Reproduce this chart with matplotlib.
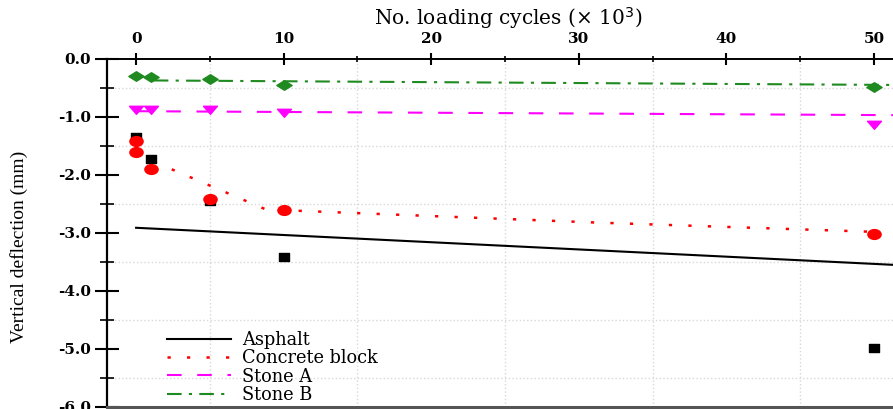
import numpy as np
import matplotlib
matplotlib.use("Agg")
from matplotlib import pyplot as plt
from matplotlib.path import Path
from matplotlib.transforms import Affine2D
from matplotlib.ticker import MultipleLocator, FormatStrFormatter

# measured points (x in 10^3 cycles, deflection in mm)
asphalt_x = [0, 1, 5, 10, 50]
asphalt_y = [-1.35, -1.72, -2.45, -3.41, -4.98]
concrete_x = [0, 0, 1, 5, 10, 50]
concrete_y = [-1.41, -1.61, -1.90, -2.41, -2.60, -3.01]
stoneA_x = [0, 1, 5, 10, 50]
stoneA_y = [-0.86, -0.87, -0.87, -0.91, -1.12]
stoneB_x = [0, 1, 5, 10, 50]
stoneB_y = [-0.29, -0.31, -0.35, -0.44, -0.48]

# trend lines
asphalt_fit_x = [0, 53]
asphalt_fit_y = [-2.91, -3.57]
concrete_fit_x = [1.2, 9.5, 10.3, 31.2, 50]
concrete_fit_y = [-1.77, -2.67, -2.61, -2.82, -2.98]
stoneA_fit_x = [0, 53]
stoneA_fit_y = [-0.90, -0.97]
stoneB_fit_x = [1.2, 53]
stoneB_fit_y = [-0.37, -0.45]

labels = ["Asphalt", "Concrete block", "Stone A", "Stone B"]


def squashed(path, sx=1.35, sy=1.0):
    # the original figure is stretched sideways, so markers are wide
    return path.transformed(Affine2D().scale(sx, sy))


rect = squashed(Path.unit_rectangle().transformed(Affine2D().translate(-0.5, -0.5)), 1.4, 1.0)
ellipse = squashed(Path.unit_circle(), 1.35, 1.0)
tri_down = squashed(Path([(-1, 0.6), (1, 0.6), (0, -0.9), (-1, 0.6)], closed=True), 1.3, 1.0)
diamond = squashed(Path([(0, 1), (1, 0), (0, -1), (-1, 0), (0, 1)], closed=True), 1.6, 1.0)

W, H = 893, 409
fig = plt.figure(figsize=(W / 100, H / 100), dpi=100)
px_per_unit = 14.76
ax_left, ax_bottom, ax_top = 107, 2, 350  # pixels
ax_w = 803
ax = fig.add_axes([ax_left / W, ax_bottom / H, ax_w / W, (ax_top - ax_bottom) / H])

green = "#1f8a1f"
ax.plot(asphalt_fit_x, asphalt_fit_y, color="black", lw=1.5, label=labels[0])
ax.plot(concrete_fit_x, concrete_fit_y, color="red", lw=1.8, ls=(0, (1.3, 6.5)), label=labels[1])
ax.plot(stoneA_fit_x, stoneA_fit_y, color="magenta", lw=1.5, ls=(0, (7, 7.5)), label=labels[2])
ax.plot(stoneB_fit_x, stoneB_fit_y, color=green, lw=1.5, ls=(0, (7, 3.5, 1.5, 3.5)), label=labels[3])

ax.plot(asphalt_x, asphalt_y, ls="none", marker=rect, ms=7.5, color="black")
ax.plot(concrete_x, concrete_y, ls="none", marker=ellipse, ms=9.5, color="red")
ax.plot(stoneA_x, stoneA_y, ls="none", marker=tri_down, ms=10, color="magenta")
ax.plot(stoneB_x, stoneB_y, ls="none", marker=diamond, ms=11, color=green)

x0 = -1.97
ax.set_xlim(x0, x0 + ax_w / px_per_unit)
ax.set_ylim(-6.0, 0.0)

ax.xaxis.tick_top()
ax.xaxis.set_label_position("top")
ax.xaxis.set_major_locator(MultipleLocator(10))
ax.xaxis.set_minor_locator(MultipleLocator(5))
ax.yaxis.set_major_locator(MultipleLocator(1.0))
ax.yaxis.set_minor_locator(MultipleLocator(0.5))
ax.yaxis.set_major_formatter(FormatStrFormatter("%.1f"))

ax.tick_params(axis="x", which="major", direction="inout", length=8.6, width=1.5, pad=5)
ax.tick_params(axis="x", which="minor", direction="inout", length=4.3, width=1.2)
ax.tick_params(axis="y", which="major", direction="inout", length=17, width=1.5, pad=3)
ax.tick_params(axis="y", which="minor", direction="inout", length=9.4, width=1.2)

for lab in ax.get_xticklabels() + ax.get_yticklabels():
    lab.set_family("DejaVu Serif")
    lab.set_fontweight("bold")
    lab.set_fontsize(11)

ax.grid(which="minor", color="#d8d8d8", ls=":", lw=1.0)
ax.grid(which="major", visible=False)
ax.set_axisbelow(True)

ax.spines["left"].set_linewidth(1.6)
ax.spines["top"].set_linewidth(1.4)
ax.spines["right"].set_visible(False)
ax.spines["bottom"].set_color("#555555")
ax.spines["bottom"].set_linewidth(2.2)

ax.set_xlabel("No. loading cycles (\u00d7 10$^3$)", family="DejaVu Serif", fontsize=14.5)
ax.xaxis.set_label_coords(0.5, 1.098)
ax.set_ylabel("Vertical deflection (mm)", family="Liberation Serif", fontsize=14)
ax.yaxis.set_label_coords(-0.098, 0.46)

ax.legend(loc="lower left", bbox_to_anchor=(0.066, -0.012), frameon=False,
          prop={"family": "DejaVu Serif", "size": 12.8},
          handlelength=3.6, handletextpad=0.6, labelspacing=0.02, borderaxespad=0)

fig.savefig("out.png", dpi=100)
